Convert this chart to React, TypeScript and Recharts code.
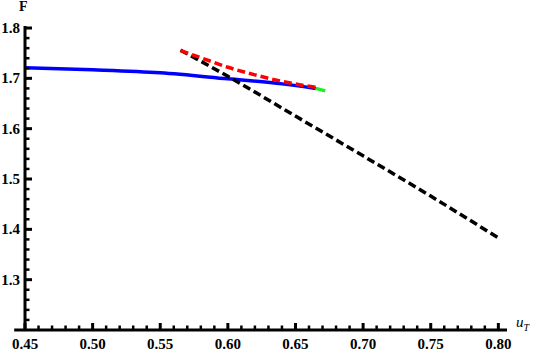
import { LineChart, Line, XAxis, YAxis, ReferenceLine } from "recharts";

// curves: u (x) and F (y)
const blueU = [0.45, 0.5, 0.55, 0.6, 0.64, 0.665];
const blueF = [1.721, 1.717, 1.711, 1.699, 1.689, 1.68];
const greenU = [0.665, 0.672];
const greenF = [1.68, 1.675];
const redU = [0.565, 0.58, 0.6, 0.62, 0.64, 0.665];
const redF = [1.755, 1.741, 1.722, 1.707, 1.694, 1.682];
const blackU = [0.565, 0.6, 0.65, 0.7, 0.75, 0.8];
const blackF = [1.756, 1.704, 1.625, 1.546, 1.466, 1.383];

const xTicks = [
  0.45, 0.46, 0.47, 0.48, 0.49, 0.5, 0.51, 0.52, 0.53, 0.54, 0.55, 0.56, 0.57,
  0.58, 0.59, 0.6, 0.61, 0.62, 0.63, 0.64, 0.65, 0.66, 0.67, 0.68, 0.69, 0.7,
  0.71, 0.72, 0.73, 0.74, 0.75, 0.76, 0.77, 0.78, 0.79, 0.8,
];
const yTicks = [
  1.22, 1.24, 1.26, 1.28, 1.3, 1.32, 1.34, 1.36, 1.38, 1.4, 1.42, 1.44, 1.46,
  1.48, 1.5, 1.52, 1.54, 1.56, 1.58, 1.6, 1.62, 1.64, 1.66, 1.68, 1.7, 1.72,
  1.74, 1.76, 1.78, 1.8,
];

const zip = (u: number[], f: number[]) => u.map((x, i) => ({ u: x, F: f[i] }));
const blue = zip(blueU, blueF);
const green = zip(greenU, greenF);
const red = zip(redU, redF);
const black = zip(blackU, blackF);

const isMajorX = (v: number) => Math.round(v * 100) % 5 === 0;
const isMajorY = (v: number) => Math.round(v * 100) % 10 === 0;

// inward tick marks + bold serif labels, Mathematica style
const XTick = (props: any) => {
  const { x, y, payload } = props;
  const major = isMajorX(payload.value);
  return (
    <g>
      <line x1={x} x2={x} y1={y} y2={y - (major ? 7 : 4.5)} stroke="#000" strokeWidth={major ? 3 : 2.5} />
      <text x={x} y={y + 19} textAnchor="middle" fontFamily="Liberation Serif" fontWeight="bold" fontSize={15}>
        {major ? payload.value.toFixed(2) : ""}
      </text>
    </g>
  );
};

const YTick = (props: any) => {
  const { x, y, payload } = props;
  const major = isMajorY(payload.value);
  return (
    <g>
      <line x1={x} x2={x + (major ? 7 : 4.5)} y1={y} y2={y} stroke="#000" strokeWidth={major ? 3 : 2.5} />
      <text x={x - 5} y={y + 5} textAnchor="end" fontFamily="Liberation Serif" fontWeight="bold" fontSize={15}>
        {major ? payload.value.toFixed(1) : ""}
      </text>
    </g>
  );
};

export default function App() {
  return (
    <div style={{ position: "absolute", left: 0, top: 0, width: 540, height: 354, background: "#fff" }}>
      <LineChart width={540} height={354} margin={{ top: 26, right: 33, bottom: 0, left: 0 }}>
        <XAxis
          dataKey="u"
          type="number"
          domain={[0.45, 0.8064]}
          ticks={xTicks}
          height={24}
          tickSize={0}
          tickMargin={0}
          tickLine={false}
          axisLine={{ stroke: "#000", strokeWidth: 3 }}
          tick={XTick}
          interval={0}
        />
        <YAxis
          type="number"
          domain={[1.2, 1.804]}
          ticks={yTicks}
          width={25}
          tickSize={0}
          tickMargin={0}
          tickLine={false}
          axisLine={{ stroke: "#000", strokeWidth: 3 }}
          tick={YTick}
          interval={0}
        />
        <ReferenceLine
          segment={[{ x: 0.442, y: 1.2 }, { x: 0.45, y: 1.2 }]}
          stroke="#000"
          strokeWidth={3}
          ifOverflow="visible"
        />
        <Line data={blue} dataKey="F" type="monotone" stroke="#0000ff" strokeWidth={3.5} dot={false} isAnimationActive={false} />
        <Line data={black} dataKey="F" type="monotone" stroke="#000" strokeWidth={3.5} strokeDasharray="8 4" dot={false} isAnimationActive={false} />
        <Line data={red} dataKey="F" type="monotone" stroke="#ff0000" strokeWidth={3.5} strokeDasharray="8 4" dot={false} isAnimationActive={false} />
        <Line data={green} dataKey="F" type="monotone" stroke="#22ee22" strokeWidth={3.5} dot={false} isAnimationActive={false} />
      </LineChart>
      <div style={{ position: "absolute", left: 19, top: -1, fontFamily: "Liberation Serif", fontWeight: "bold", fontSize: 14 }}>F</div>
      <div style={{ position: "absolute", left: 516, top: 314, fontFamily: "Liberation Serif", fontStyle: "italic", fontSize: 15 }}>
        u<sub style={{ fontSize: 10 }}>T</sub>
      </div>
    </div>
  );
}
